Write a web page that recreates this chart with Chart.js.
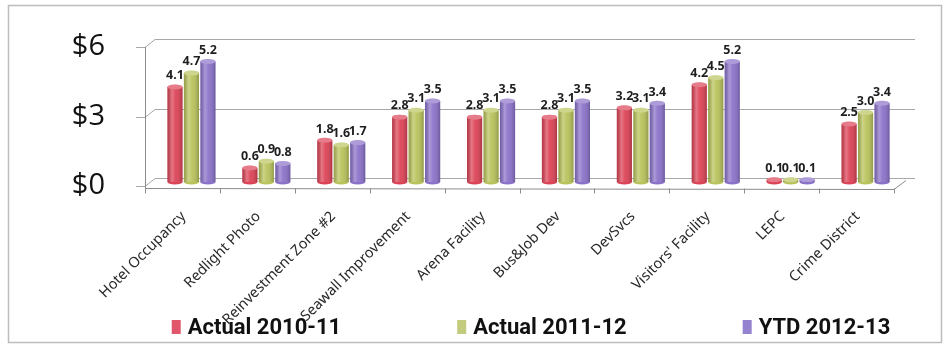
<!DOCTYPE html>
<html>
<head>
<meta charset="utf-8">
<script src="https://cdn.jsdelivr.net/npm/chart.js@4.4.1/dist/chart.umd.min.js"></script>
<style>
  html, body { margin: 0; padding: 0; background: #fff; }
  #wrap { width: 949px; height: 348px; }
</style>
</head>
<body>
<div id="wrap"><canvas id="fundChart"></canvas></div>
<script>
// Fund revenues by category ($ millions)
const categories = ['Hotel Occupancy', 'Redlight Photo', 'Reinvestment Zone #2', 'Seawall Improvement',
  'Arena Facility', 'Bus&Job Dev', 'DevSvcs', "Visitors' Facility", 'LEPC', 'Crime District'];
const actual1011 = [4.1, 0.6, 1.8, 2.8, 2.8, 2.8, 3.2, 4.2, 0.1, 2.5];
const actual1112 = [4.7, 0.9, 1.6, 3.1, 3.1, 3.1, 3.1, 4.5, 0.1, 3.0];
const ytd1213 = [5.2, 0.8, 1.7, 3.5, 3.5, 3.5, 3.4, 5.2, 0.1, 3.4];
const yTicks = [0, 3, 6];

const barColors = ['#dc4356', '#b9c35c', '#8b72c9'];
const legendColors = ['#e0566a', '#c2cb7e', '#9583cf'];

// depth offset between front frame and back wall
const DX = 9, DY = 4;

// back wall, floor and front axis drawn as a pseudo-3D frame
const frame3d = {
  id: 'frame3d',
  beforeDraw(chart) {
    const { ctx } = chart;
    ctx.save();
    ctx.fillStyle = '#fff';
    ctx.fillRect(0, 0, chart.width, chart.height);
    ctx.strokeStyle = '#bdbdbd';
    ctx.lineWidth = 1.5;
    ctx.strokeRect(8.5, 5.5, 933, 337);
    ctx.restore();
  },
  beforeDatasetsDraw(chart) {
    const { ctx, chartArea: a, scales: { y } } = chart;
    ctx.save();
    ctx.lineWidth = 1;
    ctx.strokeStyle = '#a8a8a8';
    yTicks.forEach(v => {
      const py = Math.round(y.getPixelForValue(v)) + 0.5;
      // back wall gridline
      ctx.beginPath();
      ctx.moveTo(a.left + 1, py - DY);
      ctx.lineTo(a.right + 12, py - DY);
      ctx.stroke();
      // side wall diagonal
      ctx.beginPath();
      ctx.moveTo(a.left - DX, py + DY);
      ctx.lineTo(a.left + 1, py - DY);
      ctx.stroke();
      // front tick
      ctx.beginPath();
      ctx.moveTo(a.left - DX - 9, py + DY);
      ctx.lineTo(a.left - DX, py + DY);
      ctx.stroke();
    });
    // front vertical axis
    ctx.strokeStyle = '#8c8c8c';
    ctx.beginPath();
    ctx.moveTo(a.left - DX + 0.5, y.getPixelForValue(6) + DY);
    ctx.lineTo(a.left - DX + 0.5, a.bottom + DY + 2);
    ctx.stroke();
    // floor front edge with category ticks
    const fy = a.bottom + DY + 2.5;
    ctx.beginPath();
    ctx.moveTo(a.left - DX, fy);
    ctx.lineTo(a.right - DX, fy + 1);
    ctx.lineTo(a.right + 3, fy - 8);
    ctx.stroke();
    const w = (a.right - a.left) / categories.length;
    for (let i = 0; i <= categories.length; i++) {
      const tx = Math.round(a.left - DX + i * w) + 0.5;
      ctx.beginPath();
      ctx.moveTo(tx, fy);
      ctx.lineTo(tx, fy + 5);
      ctx.stroke();
    }
    ctx.restore();
  },
  // cylinder shading and value labels on each bar
  afterDatasetsDraw(chart) {
    const { ctx } = chart;
    ctx.save();
    chart.data.datasets.forEach((ds, di) => {
      chart.getDatasetMeta(di).data.forEach((bar, i) => {
        const left = bar.x - bar.width / 2, right = bar.x + bar.width / 2;
        const g = ctx.createLinearGradient(left, 0, right, 0);
        g.addColorStop(0, 'rgba(0,0,0,0.18)');
        g.addColorStop(0.3, 'rgba(255,255,255,0.28)');
        g.addColorStop(0.55, 'rgba(255,255,255,0.05)');
        g.addColorStop(1, 'rgba(0,0,0,0.22)');
        ctx.fillStyle = g;
        ctx.fillRect(left, bar.y, bar.width, bar.base - bar.y);
        // top cap
        ctx.beginPath();
        ctx.ellipse(bar.x, bar.y, bar.width / 2, 2.5, 0, 0, Math.PI * 2);
        ctx.fillStyle = ds.backgroundColor;
        ctx.fill();
        ctx.fillStyle = 'rgba(255,255,255,0.3)';
        ctx.fill();
        // bottom rim
        ctx.beginPath();
        ctx.ellipse(bar.x, bar.base, bar.width / 2, 2.5, 0, 0, Math.PI);
        ctx.fillStyle = ds.backgroundColor;
        ctx.fill();

        ctx.font = 'bold 12.5px "Noto Sans"';
        ctx.fillStyle = '#1e1e1e';
        ctx.textAlign = 'center';
        ctx.textBaseline = 'bottom';
        ctx.fillText(ds.data[i].toFixed(1), bar.x, bar.y - 5);
      });
    });
    ctx.restore();
  },
  // series key along the bottom
  afterDraw(chart) {
    const { ctx, chartArea: a } = chart;
    ctx.save();
    ctx.font = 'bold 22px Roboto';
    ctx.textBaseline = 'middle';
    const gap = 116, box = 9, boxGap = 7;
    const items = chart.data.datasets.map(d => box + boxGap + ctx.measureText(d.label).width);
    const total = items.reduce((s, v) => s + v, 0) + gap * (items.length - 1);
    let cx = (a.left - DX + a.right) / 2 + 7 - total / 2;
    const cy = 327;
    chart.data.datasets.forEach((d, i) => {
      ctx.fillStyle = legendColors[i];
      ctx.fillRect(cx, cy - 7, box, 14);
      ctx.fillStyle = '#111';
      ctx.fillText(d.label, cx + box + boxGap, cy + 1);
      cx += items[i] + gap;
    });
    ctx.restore();
  }
};

new Chart(document.getElementById('fundChart'), {
  type: 'bar',
  data: {
    labels: categories,
    datasets: [
      { label: 'Actual 2010-11', data: actual1011, backgroundColor: barColors[0] },
      { label: 'Actual 2011-12', data: actual1112, backgroundColor: barColors[1] },
      { label: 'YTD 2012-13', data: ytd1213, backgroundColor: barColors[2] }
    ]
  },
  options: {
    responsive: true,
    maintainAspectRatio: false,
    animation: false,
    layout: { padding: { top: 43, right: 46, bottom: 0, left: 0 } },
    datasets: { bar: { categoryPercentage: 0.66, barPercentage: 0.92 } },
    plugins: { legend: { display: false }, tooltip: { enabled: false } },
    scales: {
      x: {
        grid: { display: false },
        border: { display: false },
        afterFit: s => { s.height = 166; s.paddingLeft = 0; s.paddingRight = 0; },
        ticks: {
          autoSkip: false,
          minRotation: 45,
          maxRotation: 45,
          labelOffset: -8,
          padding: 18,
          color: '#2a2a2a',
          font: { family: '"Noto Sans"', size: 14.5 }
        }
      },
      y: {
        min: 0,
        max: 6,
        grid: { display: false },
        border: { display: false },
        afterFit: s => { s.width = 154; s.paddingTop = 0; s.paddingBottom = 0; },
        afterBuildTicks: s => { s.ticks = yTicks.map(v => ({ value: v })); },
        ticks: {
          padding: 41,
          labelOffset: 4,
          color: '#111',
          font: { family: '"Open Sans"', size: 29 },
          callback: v => '$' + v
        }
      }
    }
  },
  plugins: [frame3d]
});
</script>
</body>
</html>
